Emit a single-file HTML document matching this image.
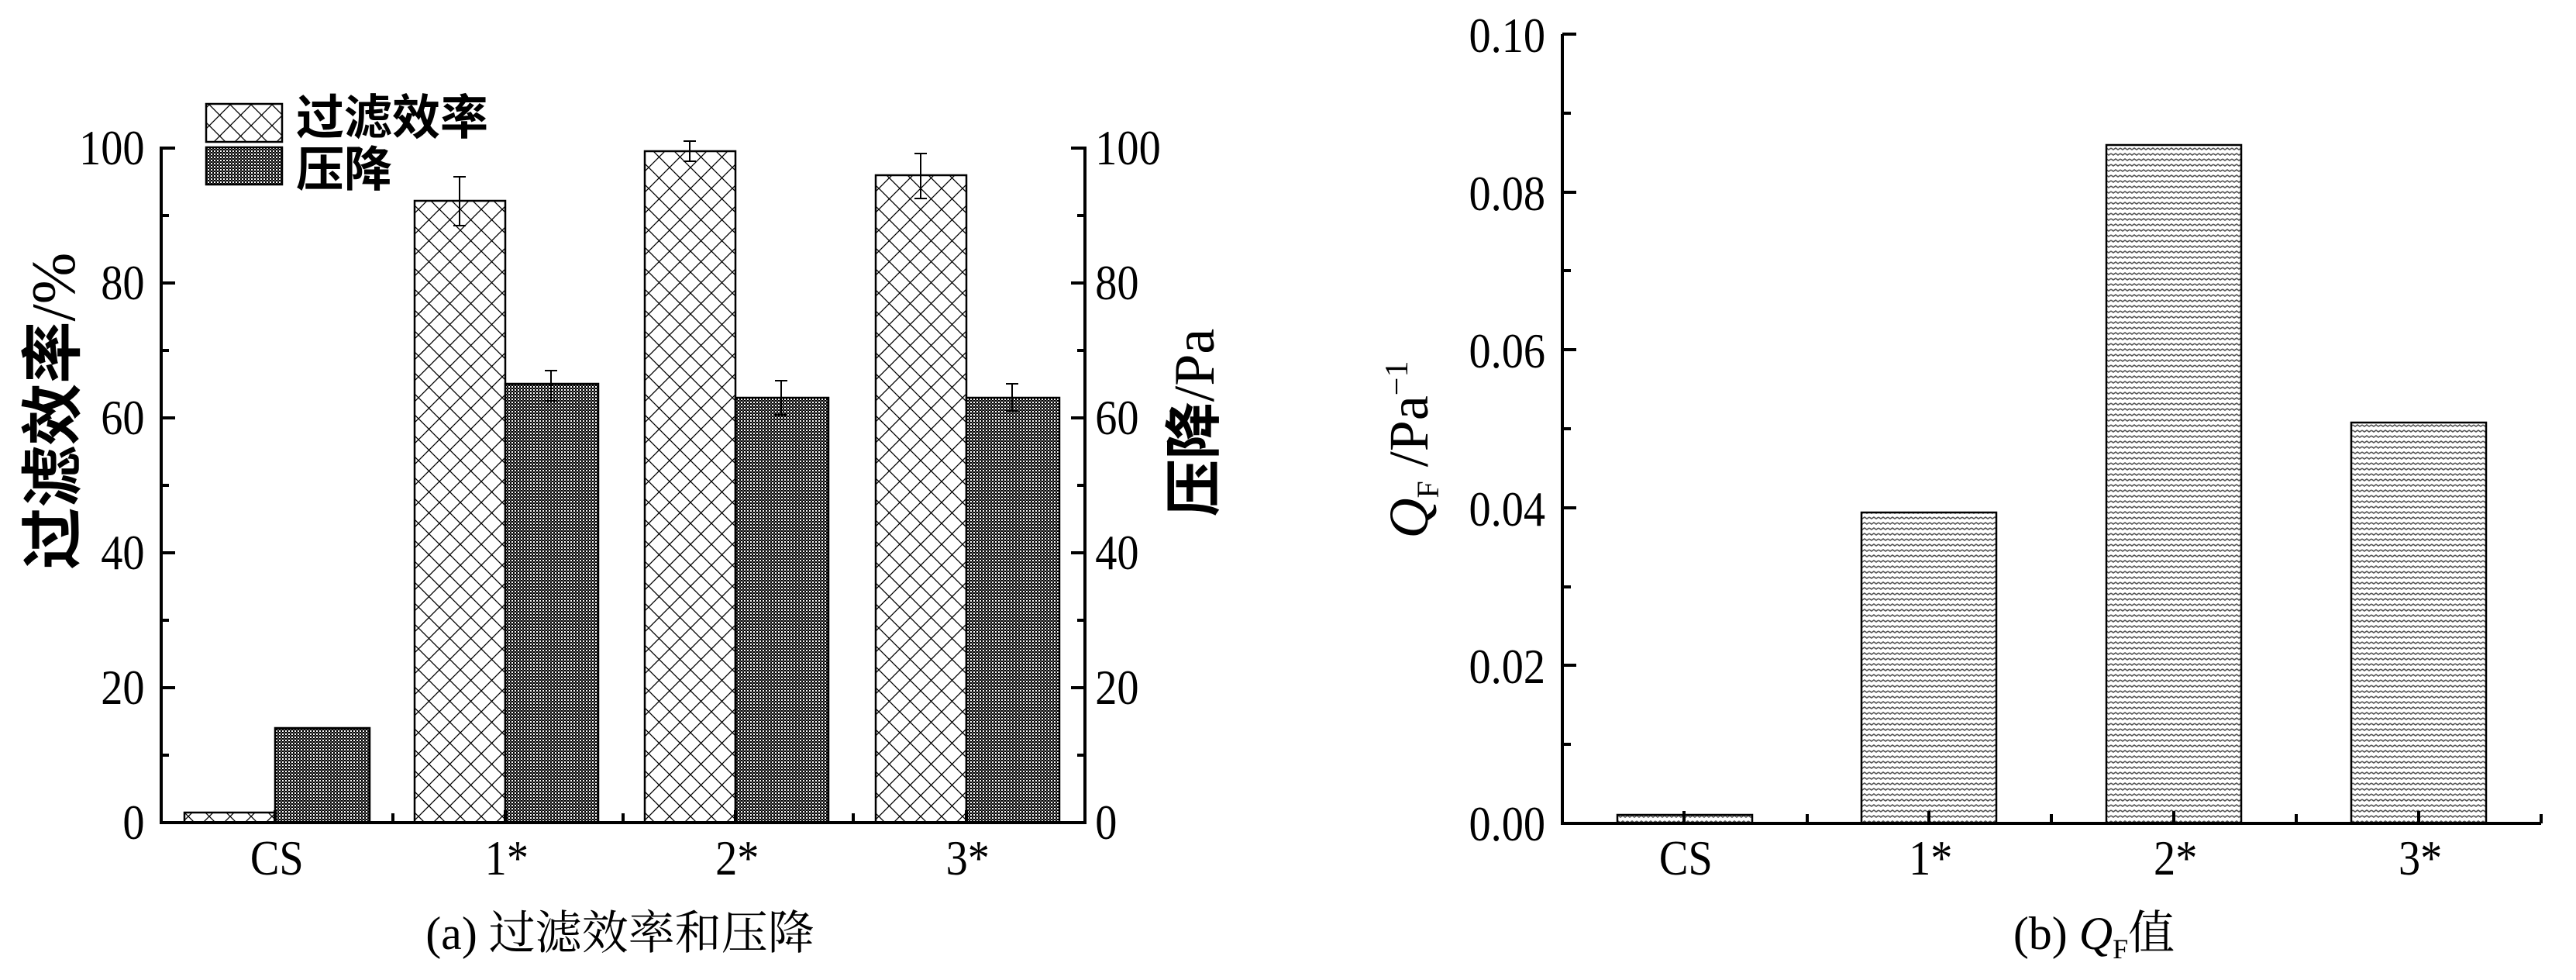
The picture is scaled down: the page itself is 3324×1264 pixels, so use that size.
<!DOCTYPE html>
<html><head><meta charset="utf-8">
<style>
html,body{margin:0;padding:0;background:#fff;}
svg{display:block;}
text{font-family:"Liberation Serif","Noto Serif CJK SC",serif;fill:#000;}
.cjk{font-family:"Liberation Serif","Noto Sans CJK SC",sans-serif;font-weight:bold;}
</style></head>
<body>
<svg width="3324" height="1264" viewBox="0 0 3324 1264" xmlns="http://www.w3.org/2000/svg">
<defs>
  <pattern id="xh" width="27" height="27" patternUnits="userSpaceOnUse">
    <rect width="27" height="27" fill="#fff"/>
    <path d="M0,0L27,27M27,0L0,27" stroke="#000" stroke-width="1.3"/>
  </pattern>
  <pattern id="ck" width="4" height="4" patternUnits="userSpaceOnUse">
    <rect width="4" height="4" fill="#fff"/>
    <rect width="2" height="2" fill="#000"/>
    <rect x="2" y="2" width="2" height="2" fill="#000"/>
    <rect x="2" y="0" width="2" height="2" fill="#555"/>
  </pattern>
  <pattern id="hl" width="12" height="7" patternUnits="userSpaceOnUse">
    <rect width="12" height="7" fill="#fff"/>
    <path d="M0,2L3,4L6,2L9,4L12,2" stroke="#555" stroke-width="1.6" fill="none"/>
  </pattern>
</defs>

<!-- ===== LEFT CHART ===== -->
<g stroke="#000" stroke-width="2.5">
  <rect x="238" y="1048" width="117" height="13" fill="url(#xh)"/>
  <rect x="535" y="259" width="117" height="802" fill="url(#xh)"/>
  <rect x="832" y="195" width="117" height="866" fill="url(#xh)"/>
  <rect x="1130" y="226" width="117" height="835" fill="url(#xh)"/>
  <rect x="355" y="939" width="122" height="122" fill="url(#ck)"/>
  <rect x="652" y="495" width="120" height="566" fill="url(#ck)"/>
  <rect x="949" y="513" width="120" height="548" fill="url(#ck)"/>
  <rect x="1247" y="513" width="120" height="548" fill="url(#ck)"/>
</g>
<g stroke="#000" stroke-width="2" fill="none">
  <path d="M593,291V228M585,291H601M585,228H601"/>
  <path d="M890,208V182M882,208H898M882,182H898"/>
  <path d="M1188,256V198M1180,256H1196M1180,198H1196"/>
  <path d="M711,517V478M703,517H719M703,478H719"/>
  <path d="M1008,535V491M1000,535H1016M1000,491H1016"/>
  <path d="M1306,530V495M1298,530H1314M1298,495H1314"/>
</g>
<g stroke="#000" stroke-width="4" fill="none">
  <path d="M208,189V1061H1400V189"/>
  <path d="M208,191h18M208,365h18M208,539h18M208,713h18M208,887h18"/>
  <path d="M208,278h10M208,452h10M208,626h10M208,800h10M208,974h10"/>
  <path d="M1400,191h-18M1400,365h-18M1400,539h-18M1400,713h-18M1400,887h-18"/>
  <path d="M1400,278h-10M1400,452h-10M1400,626h-10M1400,800h-10M1400,974h-10"/>
  <path d="M507,1061v-12M804,1061v-12M1101,1061v-12"/>
  <path d="M355,1061v-16M652,1061v-16M949,1061v-16M1247,1061v-16"/>
</g>
<g font-size="64" text-anchor="end" transform="scale(0.88,1)">
  <text x="212" y="212">100</text>
  <text x="212" y="386">80</text>
  <text x="212" y="560">60</text>
  <text x="212" y="734">40</text>
  <text x="212" y="908">20</text>
  <text x="212" y="1082">0</text>
</g>
<g font-size="64" text-anchor="start" transform="scale(0.88,1)">
  <text x="1606" y="212">100</text>
  <text x="1606" y="386">80</text>
  <text x="1606" y="560">60</text>
  <text x="1606" y="734">40</text>
  <text x="1606" y="908">20</text>
  <text x="1606" y="1082">0</text>
</g>
<g font-size="64" text-anchor="middle" transform="scale(0.88,1)">
  <text x="406" y="1128">CS</text>
  <text x="743" y="1128">1*</text>
  <text x="1081" y="1128">2*</text>
  <text x="1419" y="1128">3*</text>
</g>
<rect x="266" y="134" width="98" height="49" fill="url(#xh)" stroke="#000" stroke-width="2.5"/>
<rect x="266" y="190" width="98" height="48" fill="url(#ck)" stroke="#000" stroke-width="2.5"/>
<text class="cjk" x="382" y="173" font-size="62">过滤效率</text>
<text class="cjk" x="382" y="240" font-size="62">压降</text>
<text class="cjk" font-size="80" text-anchor="middle" transform="translate(96,530) rotate(-90)">过滤效率<tspan font-family="Liberation Serif" font-weight="normal">/%</tspan></text>
<text class="cjk" font-size="74" text-anchor="middle" transform="translate(1566,545) rotate(-90)">压降<tspan font-family="Liberation Serif" font-weight="normal">/Pa</tspan></text>
<text x="800" y="1224" font-size="60" text-anchor="middle">(a) 过滤效率和压降</text>

<!-- ===== RIGHT CHART ===== -->
<g stroke="#000" stroke-width="2.5">
  <rect x="2087" y="1051" width="174" height="11" fill="url(#hl)"/>
  <rect x="2402" y="661" width="174" height="401" fill="url(#hl)"/>
  <rect x="2718" y="187" width="174" height="875" fill="url(#hl)"/>
  <rect x="3034" y="545" width="174" height="517" fill="url(#hl)"/>
</g>
<g stroke="#000" stroke-width="4" fill="none">
  <path d="M2016,44V1062H3279"/>
  <path d="M2016,44h18M2016,248h18M2016,451h18M2016,655h18M2016,858h18"/>
  <path d="M2016,146h11M2016,349h11M2016,553h11M2016,757h11M2016,960h11"/>
  <path d="M2332,1062v-12M2647,1062v-12M2963,1062v-12M3279,1062v-12"/>
  <path d="M2173,1062v-16M2489,1062v-16M2805,1062v-16M3121,1062v-16"/>
</g>
<g font-size="64" text-anchor="end" transform="scale(0.88,1)">
  <text x="2266" y="67">0.10</text>
  <text x="2266" y="271">0.08</text>
  <text x="2266" y="474">0.06</text>
  <text x="2266" y="678">0.04</text>
  <text x="2266" y="881">0.02</text>
  <text x="2266" y="1084">0.00</text>
</g>
<g font-size="64" text-anchor="middle" transform="scale(0.88,1)">
  <text x="2472" y="1128">CS</text>
  <text x="2831" y="1128">1*</text>
  <text x="3190" y="1128">2*</text>
  <text x="3549" y="1128">3*</text>
</g>
<text font-size="72" text-anchor="middle" transform="translate(1842,580) rotate(-90)"><tspan font-style="italic">Q</tspan><tspan font-size="40" dy="14">F</tspan><tspan dy="-14"> /Pa</tspan><tspan font-size="42" dy="-26">−1</tspan></text>
<text x="2702" y="1224" font-size="60" text-anchor="middle">(b) <tspan font-style="italic">Q</tspan><tspan font-size="36" dy="12">F</tspan><tspan dy="-12" font-family="Liberation Serif, Noto Serif CJK SC, serif">值</tspan></text>
</svg>
</body></html>
